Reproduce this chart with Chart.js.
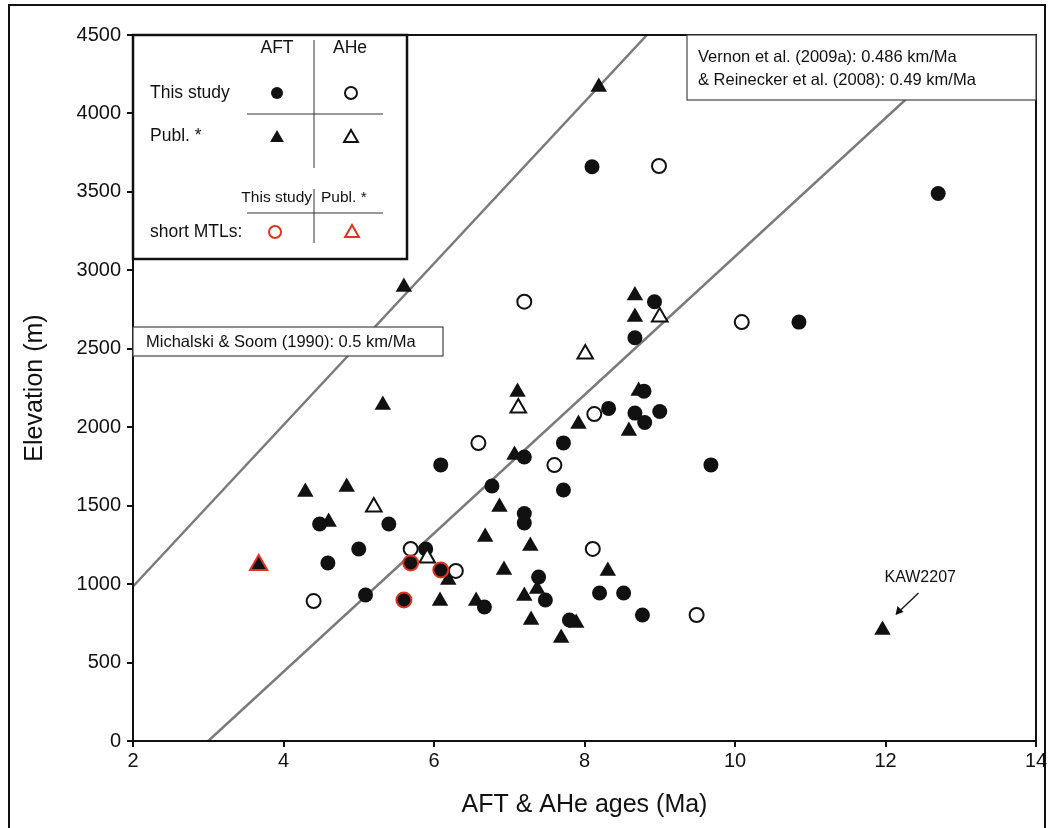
<!DOCTYPE html>
<html>
<head>
<meta charset="utf-8">
<script src="https://cdn.jsdelivr.net/npm/chart.js@4.4.0/dist/chart.umd.min.js"></script>
<style>
  html, body { margin: 0; padding: 0; background: #fff; }
  #wrap { width: 1048px; height: 828px; }
</style>
</head>
<body>
<div id="wrap"><canvas id="chart" width="1048" height="828"></canvas></div>
<script>
// === Data (age in Ma, elevation in m) ===
const xTicks = [2, 4, 6, 8, 10, 12, 14];
const yTicks = [0, 500, 1000, 1500, 2000, 2500, 3000, 3500, 4000, 4500];

// This study, AFT (filled circles)
const thisAftAge  = [8.1, 12.7, 10.85, 8.93, 8.67, 8.79, 8.32, 8.67, 8.8, 9.0, 7.72, 7.2, 6.09, 9.68, 7.72, 6.77, 7.2, 7.2, 4.48, 5.4, 5.0, 5.89, 4.59, 5.09, 6.67, 7.39, 7.48, 8.2, 8.52, 8.77, 7.8];
const thisAftElev = [3660, 3490, 2670, 2800, 2570, 2230, 2120, 2090, 2030, 2100, 1900, 1810, 1760, 1760, 1600, 1625, 1450, 1390, 1383, 1383, 1224, 1224, 1135, 931, 854, 1045, 899, 943, 943, 803, 771];

// This study, AHe (open circles)
const thisAheAge  = [8.99, 7.2, 10.09, 6.59, 8.13, 7.6, 8.11, 5.69, 6.29, 4.4, 9.49];
const thisAheElev = [3665, 2800, 2670, 1899, 2084, 1759, 1224, 1224, 1084, 892, 803];

// Published, AFT (filled triangles)
const publAftAge  = [8.19, 5.6, 8.67, 8.67, 8.72, 7.11, 5.32, 7.92, 8.59, 7.07, 4.29, 4.84, 6.87, 4.6, 6.68, 7.28, 6.19, 6.93, 8.31, 7.37, 7.2, 6.08, 6.56, 7.29, 7.89, 7.69, 11.96];
const publAftElev = [4169, 2894, 2840, 2703, 2231, 2225, 2142, 2020, 1976, 1823, 1587, 1619, 1492, 1396, 1300, 1243, 1026, 1090, 1084, 969, 924, 892, 892, 771, 752, 656, 708];

// Published, AHe (open triangles)
const publAheAge  = [8.01, 9.0, 7.12, 5.2, 5.91];
const publAheElev = [2467, 2703, 2122, 1492, 1166];

// short MTLs
const shortThisAge  = [5.69, 6.09, 5.6];
const shortThisElev = [1135, 1090, 899];
const shortPublAge  = [3.67];
const shortPublElev = [1122];

// exhumation-rate reference lines
const michalskiAge  = [2, 8.83];
const michalskiElev = [985, 4500];
const vernonAge  = [3, 13.2];
const vernonElev = [0, 4500];

const FONT = '"Liberation Sans", Arial, sans-serif';
const RED = '#e2321f';

function pts(xs, ys) {
  return xs.map((v, i) => ({ x: v, y: ys[i] }));
}

// === Legend / annotation boxes drawn on top ===
function marker(ctx, style, x, y, fill, stroke) {
  ctx.beginPath();
  if (style === 'circle') {
    ctx.arc(x, y, 6, 0, Math.PI * 2);
  } else {
    const r = 8;
    ctx.moveTo(x, y - r);
    ctx.lineTo(x + r * 0.866, y + r * 0.5);
    ctx.lineTo(x - r * 0.866, y + r * 0.5);
    ctx.closePath();
  }
  if (fill) { ctx.fillStyle = fill; ctx.fill(); }
  if (stroke) { ctx.lineWidth = 2; ctx.strokeStyle = stroke; ctx.stroke(); }
}

const boxesPlugin = {
  id: 'boxes',
  afterDraw(chart) {
    const { ctx, chartArea: a, scales: { x, y } } = chart;
    ctx.save();

    // plot frame + outer figure frame
    ctx.strokeStyle = '#111';
    ctx.lineWidth = 2;
    ctx.strokeRect(a.left, a.top, a.right - a.left, a.bottom - a.top);
    ctx.strokeRect(9, 5, 1036, 900);

    // legend table
    ctx.fillStyle = '#fff';
    ctx.fillRect(a.left, a.top, 274, 224);
    ctx.lineWidth = 2.5;
    ctx.strokeRect(a.left, a.top, 274, 224);
    ctx.lineWidth = 1;
    ctx.strokeStyle = '#333';
    ctx.beginPath();
    ctx.moveTo(314, 40); ctx.lineTo(314, 168);
    ctx.moveTo(247, 114); ctx.lineTo(383, 114);
    ctx.moveTo(314, 189); ctx.lineTo(314, 243);
    ctx.moveTo(247, 213); ctx.lineTo(383, 213);
    ctx.stroke();

    ctx.fillStyle = '#111';
    ctx.textBaseline = 'middle';
    ctx.font = '17.5px ' + FONT;
    ctx.textAlign = 'center';
    ctx.fillText('AFT', 277, 48);
    ctx.fillText('AHe', 350, 48);
    ctx.textAlign = 'left';
    ctx.fillText('This study', 150, 93);
    ctx.fillText('Publ. *', 150, 136);
    ctx.fillText('short MTLs:', 150, 232);
    ctx.font = '15.5px ' + FONT;
    ctx.textAlign = 'right';
    ctx.fillText('This study', 312, 198);
    ctx.textAlign = 'left';
    ctx.fillText('Publ. *', 321, 198);

    marker(ctx, 'circle', 277, 93, '#111', null);
    marker(ctx, 'circle', 351, 93, '#fff', '#111');
    marker(ctx, 'triangle', 277, 138, '#111', null);
    marker(ctx, 'triangle', 351, 138, '#fff', '#111');
    marker(ctx, 'circle', 275, 232, '#fff', RED);
    marker(ctx, 'triangle', 352, 233, '#fff', RED);

    // rate annotation boxes
    ctx.lineWidth = 1.2;
    ctx.strokeStyle = '#444';
    ctx.fillStyle = '#fff';
    ctx.fillRect(a.left, 327, 310, 29);
    ctx.strokeRect(a.left, 327, 310, 29);
    ctx.fillRect(687, a.top, a.right - 687, 65);
    ctx.strokeRect(687, a.top, a.right - 687, 65);

    ctx.fillStyle = '#111';
    ctx.font = '16.5px ' + FONT;
    ctx.textAlign = 'left';
    ctx.fillText('Michalski & Soom (1990): 0.5 km/Ma', 146, 342);
    ctx.fillText('Vernon et al. (2009a): 0.486 km/Ma', 698, 57);
    ctx.fillText('& Reinecker et al. (2008): 0.49 km/Ma', 698, 80);

    // KAW2207 label with arrow, placed relative to its point
    const kx = x.getPixelForValue(11.96);
    const ky = y.getPixelForValue(708);
    ctx.font = '16px ' + FONT;
    ctx.fillText('KAW2207', kx + 2, ky - 52);
    ctx.strokeStyle = '#111';
    ctx.lineWidth = 1.3;
    ctx.beginPath();
    ctx.moveTo(kx + 36, ky - 37);
    ctx.lineTo(kx + 14, ky - 16);
    ctx.stroke();
    ctx.beginPath();
    ctx.moveTo(kx + 13, ky - 15);
    ctx.lineTo(kx + 15, ky - 24);
    ctx.lineTo(kx + 21, ky - 18);
    ctx.closePath();
    ctx.fillStyle = '#111';
    ctx.fill();

    ctx.restore();
  }
};

// === Chart ===
const ctx = document.getElementById('chart').getContext('2d');
const chart = new Chart(ctx, {
  type: 'scatter',
  data: {
    datasets: [
      { label: 'Michalski', data: pts(michalskiAge, michalskiElev), showLine: true,
        borderColor: '#7a7a7a', borderWidth: 2.5, pointRadius: 0, order: 10 },
      { label: 'Vernon', data: pts(vernonAge, vernonElev), showLine: true,
        borderColor: '#7a7a7a', borderWidth: 2.5, pointRadius: 0, order: 10 },
      { label: 'This study AFT', data: pts(thisAftAge, thisAftElev), pointStyle: 'circle',
        pointRadius: 7.5, backgroundColor: '#111', borderColor: '#111', borderWidth: 0, order: 4 },
      { label: 'This study AHe', data: pts(thisAheAge, thisAheElev), pointStyle: 'circle',
        pointRadius: 7, backgroundColor: '#fff', borderColor: '#111', borderWidth: 2, order: 3 },
      { label: 'Publ. AFT', data: pts(publAftAge, publAftElev), pointStyle: 'triangle',
        pointRadius: 9.5, backgroundColor: '#111', borderColor: '#111', borderWidth: 0, order: 5 },
      { label: 'Publ. AHe', data: pts(publAheAge, publAheElev), pointStyle: 'triangle',
        pointRadius: 9, backgroundColor: '#fff', borderColor: '#111', borderWidth: 2, order: 2 },
      { label: 'short MTLs this study', data: pts(shortThisAge, shortThisElev), pointStyle: 'circle',
        pointRadius: 7.5, backgroundColor: '#111', borderColor: RED, borderWidth: 2, order: 1 },
      { label: 'short MTLs publ.', data: pts(shortPublAge, shortPublElev), pointStyle: 'triangle',
        pointRadius: 10, backgroundColor: '#111', borderColor: RED, borderWidth: 2, order: 1 }
    ]
  },
  options: {
    responsive: false,
    animation: false,
    layout: { padding: { left: 0, top: 35, right: 9, bottom: 0 } },
    plugins: {
      legend: { display: false },
      tooltip: { enabled: false }
    },
    scales: {
      x: {
        type: 'linear',
        min: xTicks[0],
        max: xTicks[xTicks.length - 1],
        afterBuildTicks: (s) => { s.ticks = xTicks.map(v => ({ value: v })); },
        afterFit: (s) => { s.height = 87; s.paddingLeft = 0; s.paddingRight = 0; },
        grid: { drawOnChartArea: false, drawTicks: true, tickLength: 6, color: '#111', lineWidth: 2 },
        border: { display: true, color: '#111', width: 2 },
        ticks: { color: '#111', padding: 2, font: { family: FONT, size: 20 },
          callback: (v) => String(v) },
        title: { display: true, text: 'AFT & AHe ages (Ma)', color: '#111',
          font: { family: FONT, size: 25 }, padding: { top: 0, bottom: 8 } }
      },
      y: {
        type: 'linear',
        min: yTicks[0],
        max: yTicks[yTicks.length - 1],
        afterBuildTicks: (s) => { s.ticks = yTicks.map(v => ({ value: v })); },
        afterFit: (s) => { s.width = 133; },
        grid: { drawOnChartArea: false, drawTicks: true, tickLength: 6, color: '#111', lineWidth: 2 },
        border: { display: true, color: '#111', width: 2 },
        ticks: { color: '#111', padding: 6, font: { family: FONT, size: 20 },
          callback: (v) => String(v) },
        title: { display: true, text: 'Elevation (m)', color: '#111',
          font: { family: FONT, size: 25 }, padding: { top: 20, bottom: 0 } }
      }
    }
  },
  plugins: [boxesPlugin]
});
</script>
</body>
</html>
